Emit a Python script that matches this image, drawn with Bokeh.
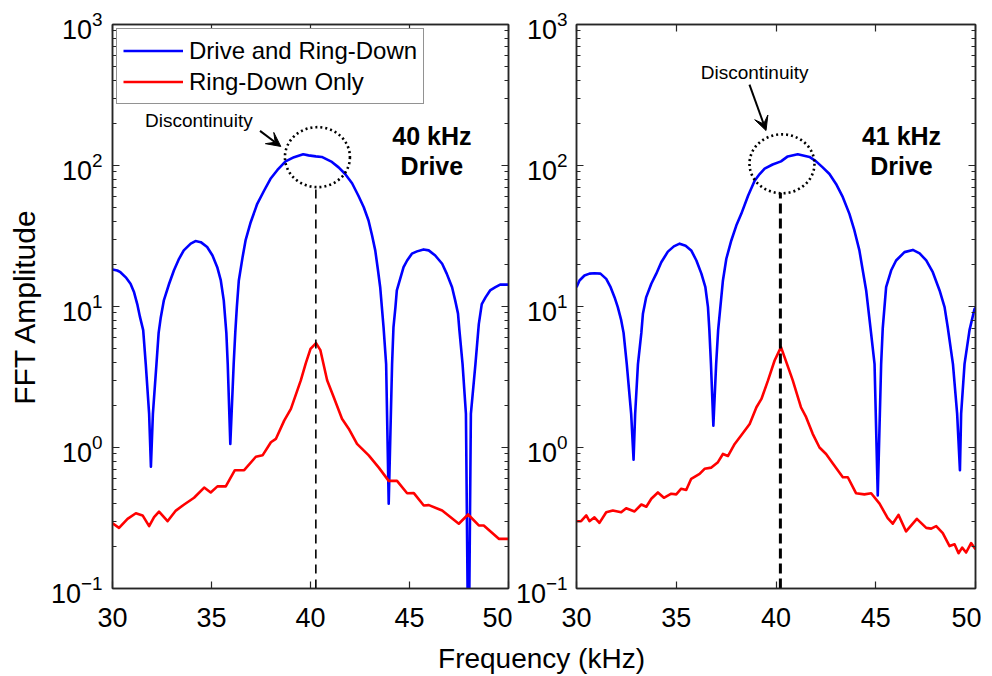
from bokeh.plotting import figure
from bokeh.layouts import row, column
from bokeh.models import (Legend, LegendItem, LinearAxis, LogAxis, FixedTicker,
                          LogTickFormatter, Label, Arrow, VeeHead, CustomJSTickFormatter)
from bokeh.embed import file_html
from bokeh.resources import INLINE

# ---------------- data ----------------
x_ticks = [30, 35, 40, 45, 50]
y_ticks = [0.1, 1, 10, 100, 1000]

# 40 kHz drive panel
freq_blue_40 = [30.0, 30.24, 30.40, 30.67, 30.91, 31.09, 31.25, 31.39, 31.55, 31.68, 31.85,
                31.94, 32.04, 32.22, 32.33, 32.44, 32.59, 32.86, 33.10, 33.36, 33.60, 33.95,
                34.19, 34.46, 34.78, 35.05, 35.29, 35.47, 35.62, 35.75, 35.82, 35.95, 36.12,
                36.20, 36.28, 36.38, 36.57, 36.72, 36.98, 37.31, 37.66, 37.98, 38.33, 38.74,
                39.17, 39.63, 39.90, 40.27, 40.57, 41.08, 41.42, 41.75, 42.10, 42.42, 42.69,
                42.93, 43.11, 43.27, 43.41, 43.52, 43.69, 43.82, 43.95, 44.12, 44.19, 44.29,
                44.36, 44.70, 44.88, 45.12, 45.38, 45.71, 45.97, 46.30, 46.65, 46.88, 47.15,
                47.31, 47.45, 47.52, 47.68, 47.85, 47.98, 48.10, 48.33, 48.50, 48.65, 48.84,
                49.07, 49.34, 49.58, 50.0]
amp_blue_40 = [18.3, 18.0, 17.5, 16.1, 14.5, 12.6, 10.4, 8.4, 6.8, 3.9, 1.73,
               0.73, 1.73, 3.9, 6.5, 8.4, 11.0, 14.5, 18.0, 21.8, 25.0, 27.9,
               29.1, 28.6, 26.4, 23.0, 19.0, 15.3, 11.0, 6.5, 3.9, 1.06, 3.9,
               6.5, 9.9, 15.3, 22.4, 29.4, 39.6, 53.5, 66.5, 80.5, 93, 107,
               114.6, 120, 118, 116, 115, 106, 97, 87, 74.8, 61, 50.6,
               40.7, 31.9, 25.0, 18.0, 13.7, 7.1, 3.9, 0.40, 3.9, 7.1, 9.9,
               13.0, 19.0, 21.2, 23.7, 24.6, 25.4, 25.0, 23.0, 20.1, 17.1, 13.7,
               11.0, 8.9, 6.8, 3.9, 1.73, 0.02, 1.73, 3.9, 7.5, 10.4, 11.6,
               13.0, 13.7, 14.3, 14.3]
freq_red_40 = [30.0, 30.33, 30.76, 31.18, 31.52, 31.85, 32.10, 32.35, 32.78, 33.20, 33.62,
               34.12, 34.63, 34.96, 35.30, 35.72, 36.18, 36.65, 37.24, 37.58, 38.0, 38.25,
               38.67, 39.01, 39.51, 39.76, 40.0, 40.28, 40.5, 40.84, 41.17, 41.59, 41.93,
               42.35, 42.94, 43.45, 43.95, 44.37, 44.88, 45.22, 45.72, 45.98, 46.65, 47.49,
               47.96, 48.5, 48.75, 49.51, 50.0]
amp_red_40 = [0.29, 0.269, 0.312, 0.342, 0.33, 0.277, 0.321, 0.351, 0.30, 0.357, 0.394,
              0.44, 0.52, 0.48, 0.53, 0.53, 0.69, 0.69, 0.86, 0.88, 1.09, 1.15,
              1.55, 1.88, 2.99, 3.95, 5.0, 5.5, 4.9, 3.0, 2.28, 1.60, 1.36,
              1.06, 0.88, 0.72, 0.58, 0.58, 0.474, 0.475, 0.388, 0.39, 0.357, 0.288,
              0.335, 0.28, 0.28, 0.225, 0.225]

# 41 kHz drive panel
freq_blue_41 = [30.0, 30.15, 30.40, 30.65, 30.90, 31.20, 31.49, 31.71, 31.91, 32.07, 32.24,
                32.36, 32.52, 32.74, 32.86, 32.94, 33.08, 33.25, 33.33, 33.49, 33.75, 34.0,
                34.25, 34.58, 34.88, 35.17, 35.47, 35.75, 36.01, 36.26, 36.46, 36.59, 36.66,
                36.74, 36.86, 37.0, 37.10, 37.34, 37.51, 37.76, 38.01, 38.26, 38.60, 38.93,
                39.18, 39.43, 39.83, 40.25, 40.59, 41.09, 41.68, 42.01, 42.34, 42.68, 43.01,
                43.35, 43.68, 43.93, 44.18, 44.35, 44.52, 44.77, 44.94, 45.10, 45.27, 45.35,
                45.52, 45.77, 46.02, 46.44, 46.86, 47.20, 47.53, 47.86, 48.20, 48.45, 48.61,
                48.87, 49.08, 49.22, 49.28, 49.45, 49.70, 49.95, 50.0]
amp_blue_41 = [13.7, 15.3, 16.6, 17.1, 17.2, 17.1, 15.7, 13.7, 11.6, 9.9, 8.0,
               6.5, 3.9, 1.73, 0.82, 1.73, 3.9, 6.5, 8.9, 11.6, 14.5, 17.1,
               20.6, 24.5, 26.7, 27.9, 27.0, 25.0, 21.2, 17.1, 13.7, 9.9, 6.8,
               3.9, 1.43, 3.9, 6.8, 15.3, 21.8, 29.4, 37.5, 45.4, 61, 78,
               87, 95, 101.6, 107, 116, 120, 115, 107, 97, 87, 74,
               59.6, 45.4, 34.6, 25.0, 18.0, 13.0, 6.4, 3.9, 0.457, 3.9, 7.0,
               13.7, 18.0, 21.2, 24.3, 25.2, 23.8, 21.2, 17.5, 13.0, 9.9, 7.1,
               3.9, 1.73, 0.69, 1.73, 3.9, 6.8, 9.6, 9.8]
freq_red_41 = [30.0, 30.23, 30.49, 30.65, 30.90, 31.15, 31.49, 31.82, 32.24, 32.49, 32.91,
               33.25, 33.50, 33.75, 34.08, 34.38, 34.75, 35.0, 35.25, 35.50, 35.75, 36.17,
               36.42, 36.76, 37.09, 37.34, 37.59, 37.93, 38.26, 38.68, 39.02, 39.27, 39.60,
               39.93, 40.25, 40.5, 40.84, 41.25, 41.51, 41.84, 42.18, 42.51, 42.85, 43.35,
               43.6, 44.01, 44.43, 44.77, 45.19, 45.60, 45.85, 46.14, 46.52, 47.06, 47.53,
               47.78, 48.03, 48.36, 48.70, 48.95, 49.15, 49.33, 49.53, 49.78, 50.0]
amp_red_41 = [0.30, 0.30, 0.33, 0.30, 0.32, 0.292, 0.347, 0.357, 0.347, 0.371, 0.352,
              0.394, 0.38, 0.433, 0.48, 0.44, 0.47, 0.465, 0.51, 0.50, 0.60, 0.65,
              0.706, 0.72, 0.787, 0.90, 0.87, 1.06, 1.22, 1.47, 1.93, 2.21, 2.99,
              4.14, 5.15, 4.1, 2.99, 1.93, 1.64, 1.25, 1.0, 0.90, 0.77, 0.615,
              0.615, 0.474, 0.465, 0.474, 0.40, 0.315, 0.288, 0.333, 0.254, 0.312, 0.269,
              0.266, 0.277, 0.247, 0.20, 0.206, 0.178, 0.195, 0.18, 0.21, 0.19]

resonance_40 = 40.27
resonance_41 = 40.22

FONT = "Liberation Sans"
BLUE = "#0000FF"
RED = "#FF0000"
FRAME = "#262626"
minor_y = [m * 10.0 ** k for k in range(-1, 3) for m in range(2, 10)]


def style_axis(ax, show_labels):
    ax.axis_line_color = FRAME
    ax.axis_line_width = 1.5
    ax.major_tick_in = 7
    ax.major_tick_out = 0
    ax.minor_tick_in = 4
    ax.minor_tick_out = 0
    ax.major_tick_line_color = FRAME
    ax.minor_tick_line_color = FRAME
    ax.major_tick_line_width = 1.2
    ax.minor_tick_line_width = 1.0
    ax.major_label_text_font = FONT
    ax.major_label_text_font_size = "27px"
    ax.major_label_text_color = "black"
    if not show_labels:
        ax.formatter = CustomJSTickFormatter(code="return ''")
        ax.major_label_standoff = 0


def make_panel(freq_b, amp_b, freq_r, amp_r, fw, left_border, right_border, ylabel, ystand):
    p = figure(frame_width=fw, frame_height=564,
               y_axis_type="log", x_range=(30, 50), y_range=(0.1, 1000),
               output_backend="svg", toolbar_location=None,
               min_border_left=left_border, min_border_right=right_border,
               min_border_top=24, min_border_bottom=52)
    p.grid.visible = False
    p.outline_line_color = FRAME
    p.outline_line_width = 1.5
    p.background_fill_color = "white"
    p.border_fill_color = "white"

    xa = p.below[0]
    ya = p.left[0]
    xa.ticker = FixedTicker(ticks=x_ticks, minor_ticks=[])
    ya.ticker = FixedTicker(ticks=y_ticks, minor_ticks=minor_y)
    ya.formatter = LogTickFormatter()
    style_axis(xa, True)
    style_axis(ya, True)
    xa.major_label_standoff = 19
    ya.major_label_standoff = ystand

    if ylabel:
        ya.axis_label = ylabel
        ya.axis_label_text_font = FONT
        ya.axis_label_text_font_size = "30px"
        ya.axis_label_text_font_style = "normal"
        ya.axis_label_text_color = "black"
        ya.axis_label_standoff = 7

    top = LinearAxis(ticker=FixedTicker(ticks=x_ticks, minor_ticks=[]))
    style_axis(top, False)
    p.add_layout(top, "above")
    right = LogAxis(ticker=FixedTicker(ticks=y_ticks, minor_ticks=minor_y))
    style_axis(right, False)
    p.add_layout(right, "right")

    rb = p.line(freq_b, amp_b, line_color=BLUE, line_width=2.6, line_join="round")
    rr = p.line(freq_r, amp_r, line_color=RED, line_width=2.6, line_join="round")
    return p, rb, rr


p1, b1, r1 = make_panel(freq_blue_40, amp_blue_40, freq_red_40, amp_red_40,
                        396, 112, 4, "FFT Amplitude", 10)
p2, b2, r2 = make_panel(freq_blue_41, amp_blue_41, freq_red_41, amp_red_41,
                        399, 62, 6, None, 9)

# dashed resonance markers
p1.segment(x0=[resonance_40], y0=[0.1], x1=[resonance_40], y1=[70],
           line_color="black", line_width=1.6, line_dash="9 6")
p2.segment(x0=[resonance_41], y0=[0.1], x1=[resonance_41], y1=[64],
           line_color="black", line_width=3, line_dash="10 5")

# dotted circles around the discontinuity
p1.ellipse(x=[40.35], y=[114.6], width=65, height=60, width_units="screen",
           height_units="screen", fill_color=None, line_color="black",
           line_width=2.6, line_dash="2 3")
p2.ellipse(x=[40.30], y=[102.8], width=65, height=59, width_units="screen",
           height_units="screen", fill_color=None, line_color="black",
           line_width=2.6, line_dash="2 3")

# annotations
for p, (tx, ty), (ax0, ay0, ax1, ay1) in [
        (p1, (34.36, 208), (37.45, 176, 38.5, 136.5)),
        (p2, (38.93, 459), (38.67, 375, 39.5, 177))]:
    p.add_layout(Label(x=tx, y=ty, text="Discontinuity", text_font=FONT,
                       text_font_size="19px", text_align="center",
                       text_baseline="middle", text_color="black"))
    p.add_layout(Arrow(end=VeeHead(size=14, fill_color="black", line_color="black"),
                       x_start=ax0, y_start=ay0, x_end=ax1, y_end=ay1,
                       line_color="black", line_width=2))
for p, t, cx in [(p1, "40 kHz", 46.13), (p2, "41 kHz", 46.29)]:
    p.add_layout(Label(x=cx, y=163, text=t, text_font=FONT, text_font_size="25px",
                       text_font_style="bold", text_align="center",
                       text_baseline="middle", text_color="black"))
    p.add_layout(Label(x=cx, y=100, text="Drive", text_font=FONT,
                       text_font_size="25px", text_font_style="bold",
                       text_align="center", text_baseline="middle",
                       text_color="black"))

legend = Legend(items=[LegendItem(label="Drive and Ring-Down", renderers=[b1]),
                       LegendItem(label="Ring-Down Only", renderers=[r1])],
                location="top_left", margin=4, padding=6, spacing=0,
                glyph_width=60, glyph_height=31, label_height=31,
                label_standoff=6, label_text_font=FONT,
                label_text_font_size="24px", label_text_color="black",
                border_line_color=FRAME, border_line_width=1.2,
                background_fill_color="white", background_fill_alpha=1.0)
p1.add_layout(legend)

total_w = (112 + 396 + 4) + (62 + 399 + 6)
p3 = figure(width=total_w, height=36, x_range=(0, 1), y_range=(0, 1),
            x_axis_location=None, y_axis_location=None, toolbar_location=None,
            output_backend="svg", min_border=0)
p3.grid.visible = False
p3.outline_line_color = None
p3.add_layout(Label(x=541, y=18, x_units="screen", y_units="screen",
                    text="Frequency (kHz)", text_font=FONT, text_font_size="28px",
                    text_align="center", text_baseline="middle",
                    text_color="black"))

layout = column(row(p1, p2), p3)
open("out.html", "w").write(file_html(layout, INLINE))
